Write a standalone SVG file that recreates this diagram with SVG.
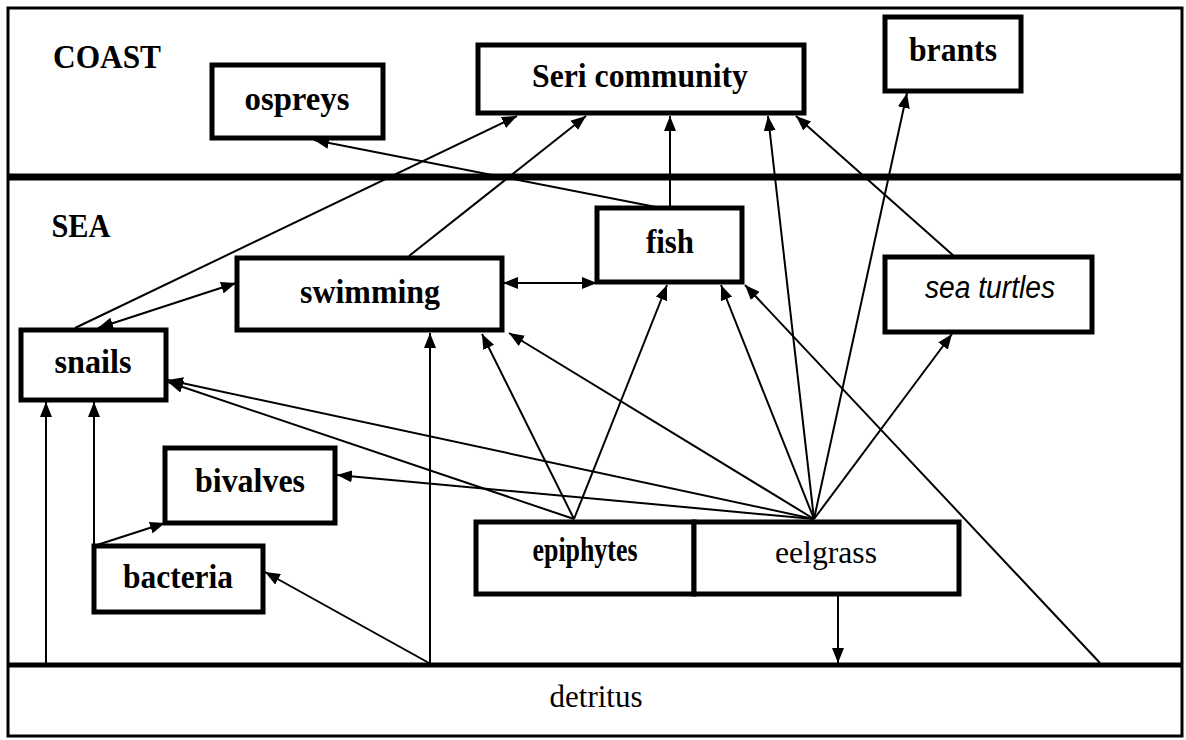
<svg xmlns="http://www.w3.org/2000/svg" width="1186" height="740" viewBox="0 0 1186 740">
<style>
.box{fill:#fff;stroke:#000;stroke-width:5}
.t{font-family:"Liberation Serif","Times New Roman",serif;font-weight:bold;font-size:33px;text-anchor:middle;fill:#000}
.r{font-family:"Liberation Serif","Times New Roman",serif;font-size:32px;text-anchor:middle;fill:#000}
.c{stroke:#000;stroke-width:2;fill:none}
</style>
<defs>
<marker id="ah" viewBox="0 0 15 12" refX="15" refY="6" markerWidth="15" markerHeight="12" markerUnits="userSpaceOnUse" orient="auto-start-reverse"><path d="M0,0 L15,6 L0,12 z" fill="#000"/></marker>
</defs>
<rect x="0" y="0" width="1186" height="740" fill="#fff"/>
<g id="frame">
<rect x="8" y="8" width="1174" height="728" fill="none" stroke="#000" stroke-width="3"/>
<line x1="8" y1="177" x2="1182" y2="177" stroke="#000" stroke-width="7"/>
<line x1="8" y1="665" x2="1182" y2="665" stroke="#000" stroke-width="5"/>
<text class="t" x="107" y="68" textLength="108" lengthAdjust="spacingAndGlyphs">COAST</text>
<text class="t" x="81" y="237" textLength="59" lengthAdjust="spacingAndGlyphs">SEA</text>
</g>
<g id="connectors">
<line class="c" x1="75" y1="328" x2="517" y2="116" marker-end="url(#ah)"/>
<line class="c" x1="409" y1="256" x2="586" y2="116" marker-end="url(#ah)"/>
<line class="c" x1="670" y1="208" x2="670" y2="116" marker-end="url(#ah)"/>
<line class="c" x1="661" y1="208" x2="314" y2="140" marker-end="url(#ah)"/>
<line class="c" x1="814" y1="519" x2="768" y2="116" marker-end="url(#ah)"/>
<line class="c" x1="955" y1="257" x2="796" y2="116" marker-end="url(#ah)"/>
<line class="c" x1="814" y1="519" x2="907" y2="93" marker-end="url(#ah)"/>
<line class="c" x1="503" y1="283" x2="597" y2="283" marker-start="url(#ah)" marker-end="url(#ah)"/>
<line class="c" x1="98" y1="328" x2="236" y2="283" marker-start="url(#ah)" marker-end="url(#ah)"/>
<line class="c" x1="814" y1="519" x2="168" y2="380" marker-end="url(#ah)"/>
<line class="c" x1="574" y1="519" x2="168" y2="382" marker-end="url(#ah)"/>
<line class="c" x1="814" y1="519" x2="509" y2="333" marker-end="url(#ah)"/>
<line class="c" x1="574" y1="519" x2="482" y2="334" marker-end="url(#ah)"/>
<line class="c" x1="574" y1="519" x2="667" y2="285" marker-end="url(#ah)"/>
<line class="c" x1="814" y1="519" x2="721" y2="285" marker-end="url(#ah)"/>
<line class="c" x1="1100" y1="663" x2="745" y2="285" marker-end="url(#ah)"/>
<line class="c" x1="814" y1="519" x2="952" y2="334" marker-end="url(#ah)"/>
<line class="c" x1="814" y1="519" x2="337" y2="475" marker-end="url(#ah)"/>
<line class="c" x1="97" y1="545" x2="165" y2="523" marker-end="url(#ah)"/>
<line class="c" x1="94" y1="545" x2="94" y2="402" marker-end="url(#ah)"/>
<line class="c" x1="46" y1="663" x2="46" y2="402" marker-end="url(#ah)"/>
<line class="c" x1="429" y1="663" x2="265" y2="572" marker-end="url(#ah)"/>
<line class="c" x1="430" y1="663" x2="430" y2="333" marker-end="url(#ah)"/>
<line class="c" x1="838" y1="595" x2="838" y2="663" marker-end="url(#ah)"/>
</g>
<g id="ospreys"><rect class="box" x="212" y="65" width="171" height="73"/><text class="t" x="297" y="110" textLength="105" lengthAdjust="spacingAndGlyphs">ospreys</text></g>
<g id="seri"><rect class="box" x="478" y="45" width="326" height="68"/><text class="t" x="640" y="87" textLength="216" lengthAdjust="spacingAndGlyphs">Seri community</text></g>
<g id="brants"><rect class="box" x="885" y="17" width="136" height="74"/><text class="t" x="953" y="61" textLength="88" lengthAdjust="spacingAndGlyphs">brants</text></g>
<g id="fish"><rect class="box" x="597" y="208" width="145" height="74"/><text class="t" x="670" y="253" textLength="48" lengthAdjust="spacingAndGlyphs">fish</text></g>
<g id="swimming"><rect class="box" x="237" y="258" width="265" height="72"/><text class="t" x="370" y="303" textLength="140" lengthAdjust="spacingAndGlyphs">swimming</text></g>
<g id="seaturtles"><rect class="box" x="885" y="257" width="207" height="75"/><text x="990" y="298" font-family="Liberation Sans,Arial,sans-serif" font-style="italic" font-size="31" text-anchor="middle" textLength="130" lengthAdjust="spacingAndGlyphs">sea turtles</text></g>
<g id="snails"><rect class="box" x="21" y="330" width="145" height="70"/><text class="t" x="93" y="373" textLength="77" lengthAdjust="spacingAndGlyphs">snails</text></g>
<g id="bivalves"><rect class="box" x="165" y="448" width="170" height="75"/><text class="t" x="250" y="492" textLength="110" lengthAdjust="spacingAndGlyphs">bivalves</text></g>
<g id="bacteria"><rect class="box" x="94" y="546" width="169" height="66"/><text class="t" x="178" y="588" textLength="110" lengthAdjust="spacingAndGlyphs">bacteria</text></g>
<g id="epiphytes"><rect class="box" x="476" y="522" width="218" height="72"/><text class="t" x="585" y="561" font-size="22" textLength="105" lengthAdjust="spacingAndGlyphs">epiphytes</text></g>
<g id="eelgrass"><rect class="box" x="694" y="522" width="265" height="72"/><text class="r" x="826" y="563" font-size="30" textLength="102" lengthAdjust="spacingAndGlyphs">eelgrass</text></g>
<g id="detritus"><text class="r" x="596" y="707" textLength="93" lengthAdjust="spacingAndGlyphs">detritus</text></g>
</svg>
